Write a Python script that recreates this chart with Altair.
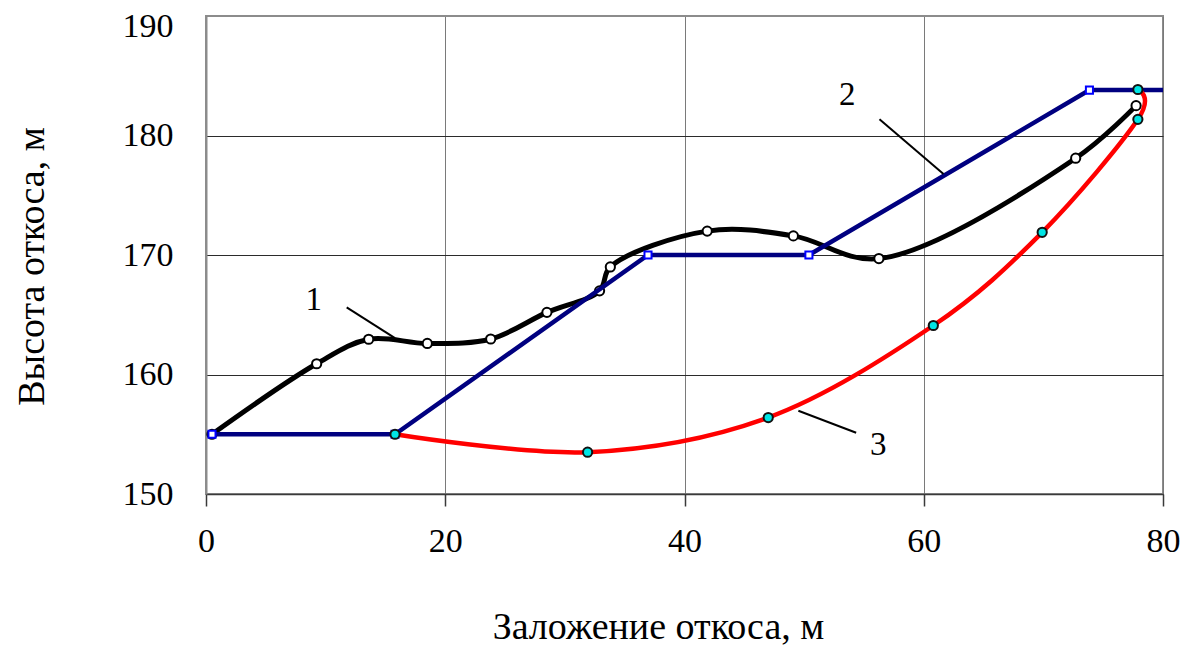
import altair as alt
import pandas as pd

# Curve 1: surveyed slope surface
p1_x = [0.5, 9.25, 13.6, 18.5, 23.8, 28.5, 32.9, 33.8, 41.9, 49.1, 56.25, 72.7, 77.75]
p1_y = [155.0, 160.9, 162.95, 162.6, 162.97, 165.2, 167.0, 169.0, 172.0, 171.6, 169.7, 178.1, 182.5]

# Curve 2: design slope profile with a bench
p2_x = [0.5, 15.8, 36.95, 50.4, 73.85, 80.0]
p2_y = [155.0, 155.0, 170.0, 170.0, 183.8, 183.8]
p2_marked = [True, True, True, True, True, False]

# Curve 3: sliding surface
p3_x = [15.8, 31.9, 47.0, 60.8, 69.9, 77.9, 77.9]
p3_y = [155.0, 153.5, 156.4, 164.1, 171.9, 181.35, 183.85]

# Curve numbers and their leader lines
labels = ["1", "2", "3"]
label_x = [9.0, 53.6, 56.2]
label_y = [165.4, 182.55, 153.26]
leader_x = [11.76, 56.3, 49.52]
leader_y = [165.62, 181.36, 156.97]
leader_x2 = [15.8, 61.65, 54.35]
leader_y2 = [163.05, 176.78, 155.13]

x_ticks = [0, 20, 40, 60, 80]
y_ticks = [150, 160, 170, 180, 190]

FONT = "Liberation Serif"

df1 = pd.DataFrame({"x": p1_x, "y": p1_y, "i": range(len(p1_x))})
df2 = pd.DataFrame({"x": p2_x, "y": p2_y, "i": range(len(p2_x)), "m": p2_marked})
df3 = pd.DataFrame({"x": p3_x, "y": p3_y, "i": range(len(p3_x))})
dfl = pd.DataFrame({"t": labels, "x": label_x, "y": label_y})
dfr = pd.DataFrame({"x": leader_x, "y": leader_y, "x2": leader_x2, "y2": leader_y2})

xs = alt.Scale(domain=[0, 80], nice=False, zero=False)
ys = alt.Scale(domain=[150, 190], nice=False, zero=False)

x_axis = alt.Axis(
    values=x_ticks, title="Заложение откоса, м", grid=True,
    gridColor="#7a7a7a", gridWidth=1,
    domainColor="#3a3a3a", domainWidth=1.5,
    tickColor="#3a3a3a", tickSize=12, tickWidth=1.5,
    labelFont=FONT, labelFontSize=34, labelColor="black", labelPadding=18,
    labelFlush=False, labelOverlap=False, labelBound=False,
    titleFont=FONT, titleFontSize=38, titleFontWeight="normal", titleColor="black",
    titleX=452, titleY=144, titleBaseline="alphabetic", titleAlign="center",
)
y_axis = alt.Axis(
    values=y_ticks, title="Высота откоса, м", grid=True,
    gridColor={"condition": {"test": "datum.value == 190", "value": "#8c8c8c"}, "value": "#2b2b2b"},
    gridWidth=1,
    ticks=False, tickSize=0,
    domainColor="#8c8c8c", domainWidth=2,
    labelFont=FONT, labelFontSize=34, labelColor="black", labelPadding=33,
    labelOffset={"condition": {"test": "datum.value == 190", "value": 10}, "value": 0},
    labelFlush=False, labelOverlap=False, labelBound=False,
    titleFont=FONT, titleFontSize=38, titleFontWeight="normal", titleColor="black",
    titleX=-163, titleY=250, titleAngle=270, titleBaseline="alphabetic", titleAlign="center",
)


def X(f="x"):
    return alt.X(f"{f}:Q", scale=xs, axis=x_axis)


def Y(f="y"):
    return alt.Y(f"{f}:Q", scale=ys, axis=y_axis)


line1 = alt.Chart(df1).mark_line(color="black", strokeWidth=5, interpolate="catmull-rom").encode(
    x=X(), y=Y(), order="i:Q")
pts1 = alt.Chart(df1).mark_point(shape="circle", filled=True, fill="white", stroke="black",
                                 strokeWidth=2, size=85, opacity=1).encode(x=X(), y=Y())

line2 = alt.Chart(df2).mark_line(color="#000080", strokeWidth=4.5).encode(x=X(), y=Y(), order="i:Q")
pts2 = alt.Chart(df2).transform_filter("datum.m").mark_point(
    shape="square", filled=True, fill="white", stroke="#0000FF", strokeWidth=2, size=50, opacity=1
).encode(x=X(), y=Y())

line3 = alt.Chart(df3).mark_line(color="#FF0000", strokeWidth=4.5, interpolate="cardinal").encode(
    x=X(), y=Y(), order="i:Q")
pts3 = alt.Chart(df3).mark_point(shape="circle", filled=True, fill="#00E5E5", stroke="#111111",
                                 strokeWidth=2, size=85, opacity=1).encode(x=X(), y=Y())

leaders = alt.Chart(dfr).mark_rule(color="black", strokeWidth=2).encode(
    x=X(), y=Y(), x2="x2:Q", y2="y2:Q")
texts = alt.Chart(dfl).mark_text(font=FONT, fontSize=33, baseline="alphabetic", align="center",
                                 color="black").encode(x=X(), y=Y(), text="t:N")

chart = alt.layer(line1, pts1, line2, pts2, line3, pts3, leaders, texts).properties(
    width=957, height=478,
    autosize=alt.AutoSizeParams(type="none"),
    padding={"left": 206, "top": 16, "right": 26, "bottom": 155},
    background="white",
).configure_view(stroke="#8c8c8c", strokeWidth=2)

chart.save("out.html", embed_options={"renderer": "svg", "actions": False})
